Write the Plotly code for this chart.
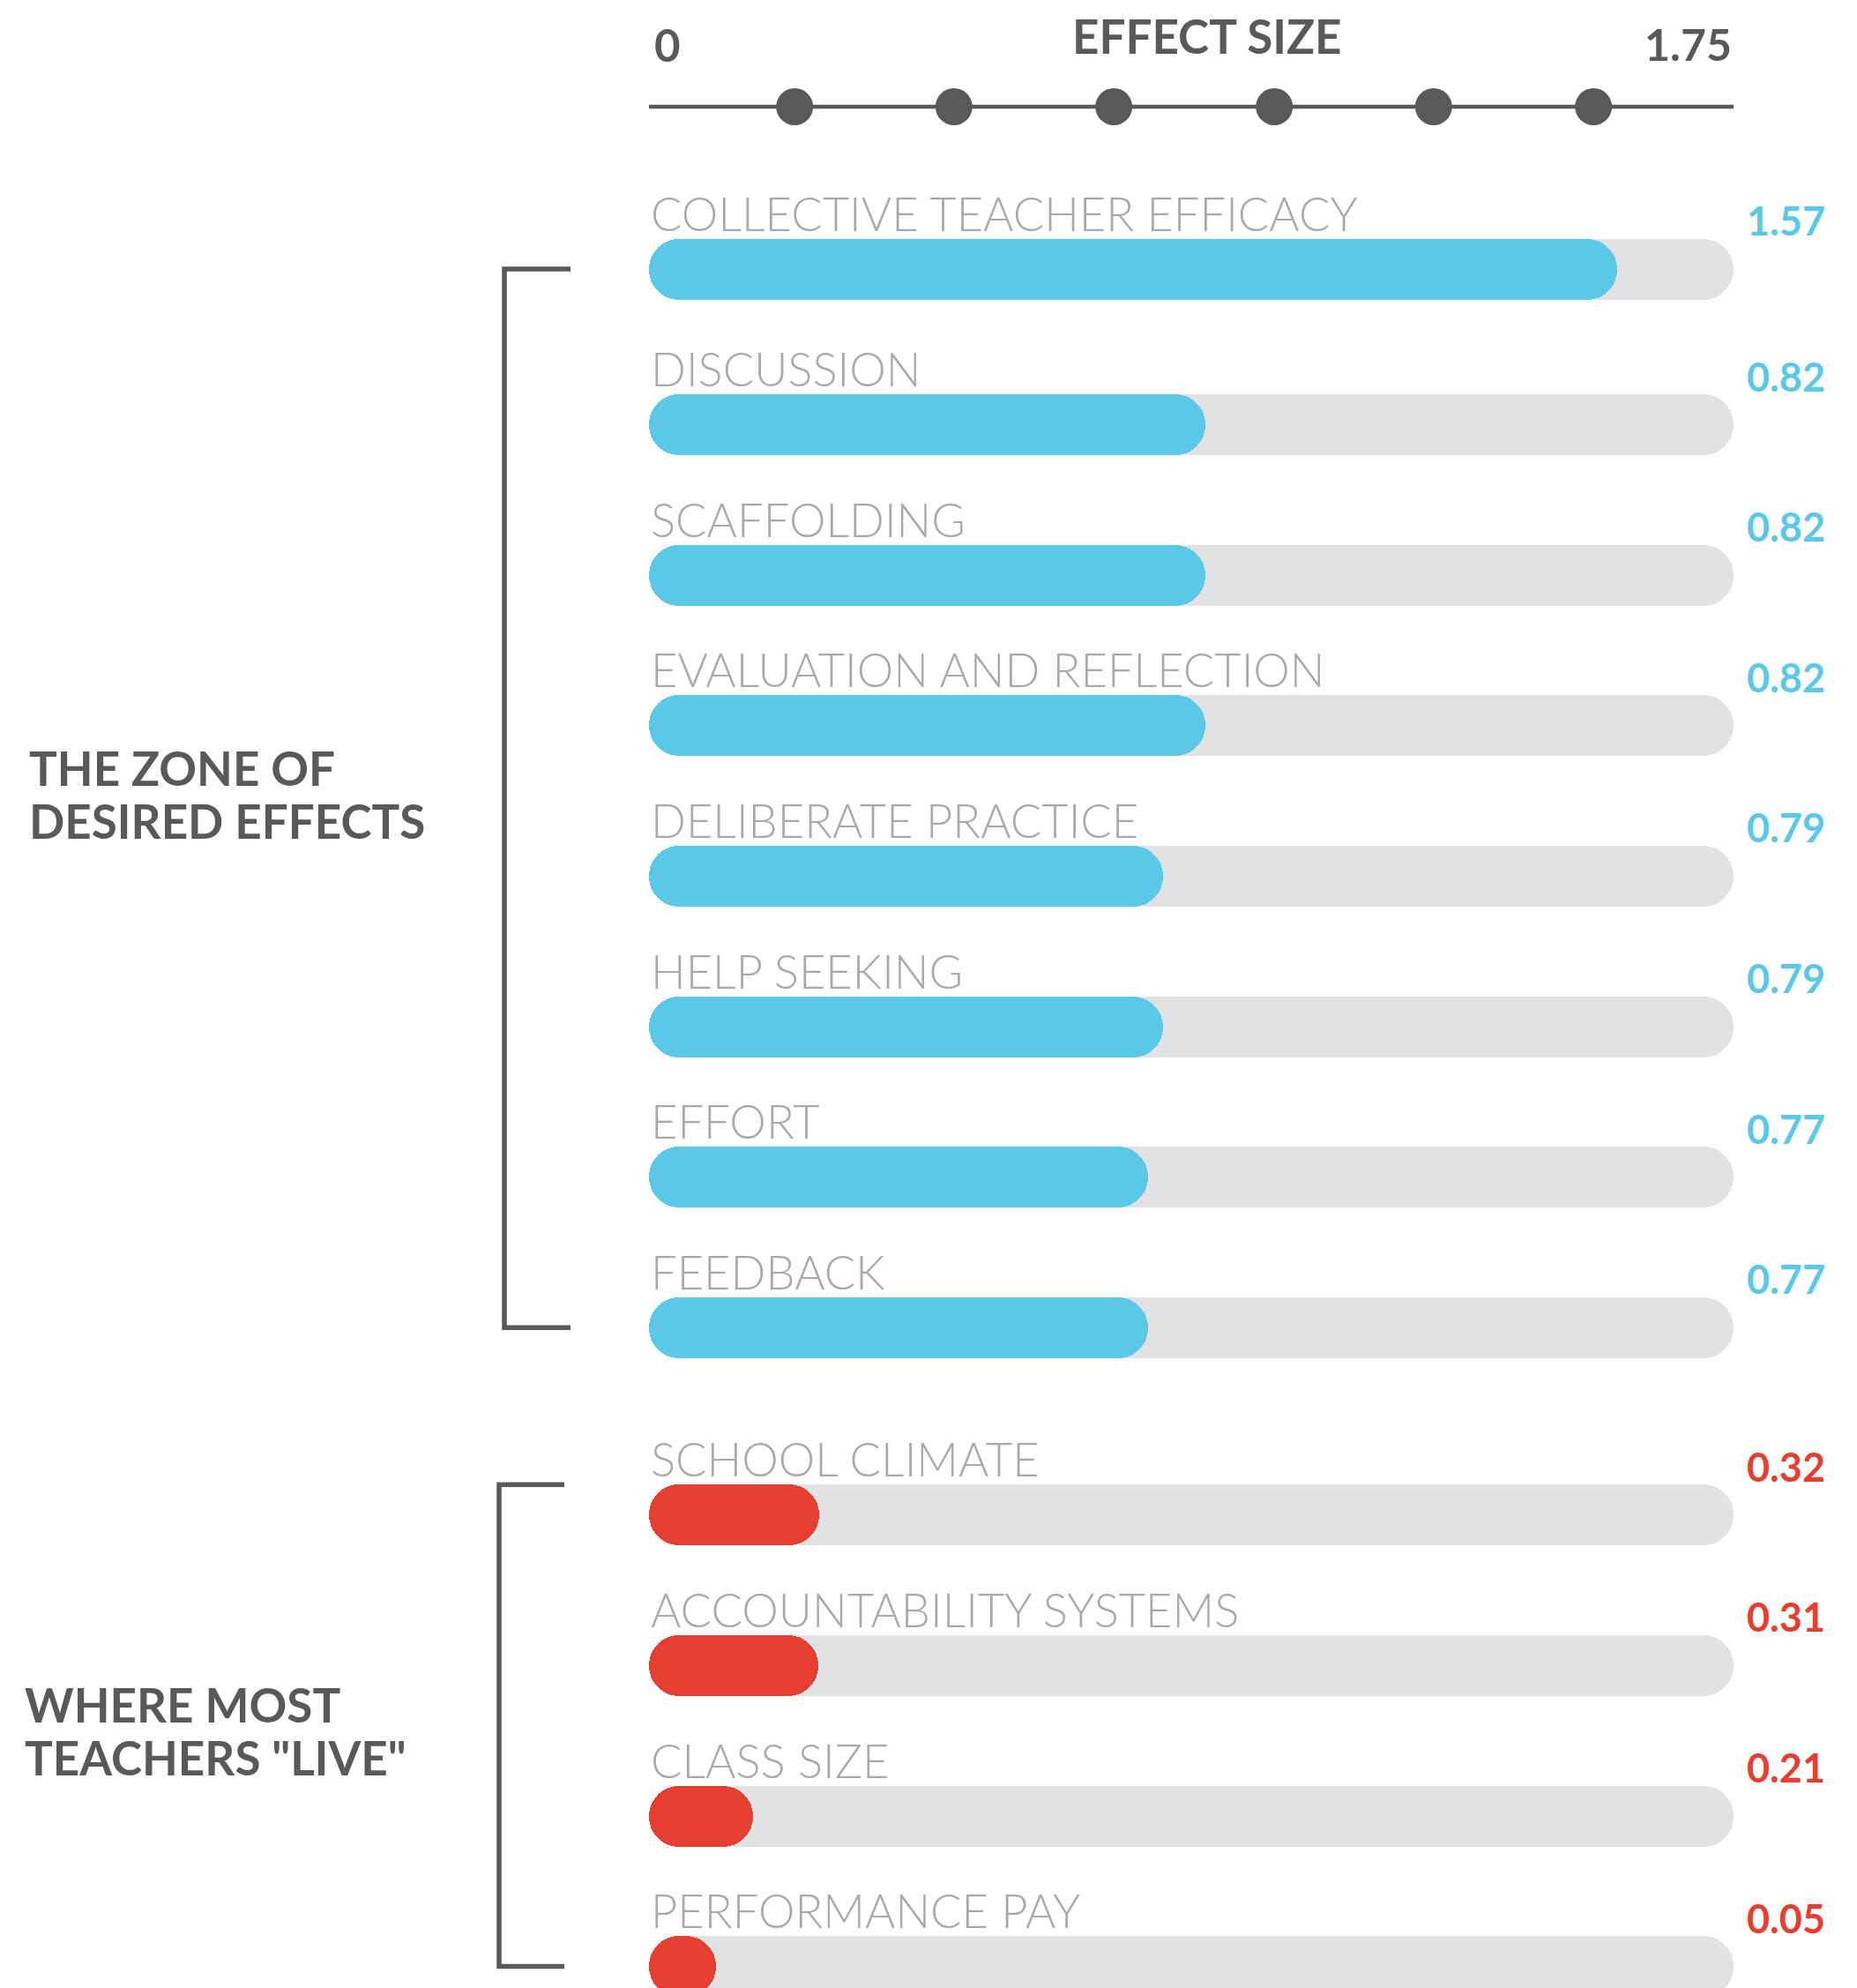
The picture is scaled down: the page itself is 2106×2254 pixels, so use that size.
import plotly.graph_objects as go

# ---------------- data ----------------
categories = [
    "COLLECTIVE TEACHER EFFICACY", "DISCUSSION", "SCAFFOLDING",
    "EVALUATION AND REFLECTION", "DELIBERATE PRACTICE", "HELP SEEKING",
    "EFFORT", "FEEDBACK", "SCHOOL CLIMATE", "ACCOUNTABILITY SYSTEMS",
    "CLASS SIZE", "PERFORMANCE PAY",
]
effect_labels = ["1.57", "0.82", "0.82", "0.82", "0.79", "0.79",
                 "0.77", "0.77", "0.32", "0.31", "0.21", "0.05"]
# bar lengths as drawn in the picture (effect-size units on the 0-1.75 scale)
bar_lengths = [1.562, 0.898, 0.898, 0.898, 0.829, 0.829,
               0.805, 0.805, 0.275, 0.273, 0.168, 0.108]
zones = ["desired"] * 8 + ["live"] * 4
axis_min, axis_max = 0.0, 1.75
axis_tick_labels = ["0", "1.75"]
axis_title = "EFFECT SIZE"
axis_dots = [0.235, 0.492, 0.750, 1.009, 1.266, 1.524]
zone_titles = {"desired": ["THE ZONE OF", "DESIRED EFFECTS"],
               "live": ["WHERE MOST", 'TEACHERS "LIVE"']}

# ---------------- style / layout ----------------
W, H = 2106, 2254
DARK = "#58595b"
LABEL_GREY = "#a7a9ac"
TRACK = "#e1e2e4"
ZONE_COLOR = {"desired": "#5ac8e6", "live": "#e63e31"}
FONT = "Lato, 'Open Sans', sans-serif"

PX0, PX1 = 736, 1966           # pixel span of the 0..1.75 scale
K = (PX1 - PX0) / (axis_max - axis_min)


def px2x(px):
    return axis_min + (px - PX0) / K


ROW0, FIRST_GAP, PITCH, GAP = 305, 6, 170.6, 42
BAR_T = 69
row_y = [ROW0 + PITCH * i + (FIRST_GAP if i > 0 else 0) + (GAP if z == "live" else 0)
         for i, z in enumerate(zones)]
AXIS_Y = 121

fig = go.Figure()

n = len(categories)
# grey tracks (floating base -> all four corners rounded)
fig.add_trace(go.Bar(
    y=row_y, x=[axis_max - axis_min] * n, base=[axis_min] * n, orientation="h", width=BAR_T,
    marker=dict(color=TRACK, line=dict(width=0), cornerradius="50%"),
    hoverinfo="skip", showlegend=False))
# coloured effect bars
fig.add_trace(go.Bar(
    y=row_y, x=bar_lengths, base=[axis_min] * n, orientation="h", width=BAR_T,
    marker=dict(color=[ZONE_COLOR[z] for z in zones], line=dict(width=0), cornerradius="50%"),
    hoverinfo="skip", showlegend=False))

# top scale line and dots
fig.add_trace(go.Scatter(x=[axis_min, axis_max], y=[AXIS_Y, AXIS_Y], mode="lines",
                         line=dict(color=DARK, width=4.5), hoverinfo="skip", showlegend=False))
fig.add_trace(go.Scatter(x=axis_dots, y=[AXIS_Y] * len(axis_dots), mode="markers",
                         marker=dict(color=DARK, size=42, line=dict(width=0)),
                         hoverinfo="skip", showlegend=False))

ann = []
ann.append(dict(x=axis_min, xshift=4, y=50, text=axis_tick_labels[0], xanchor="left", yanchor="middle",
                font=dict(family=FONT, size=51, color=DARK, weight="bold")))
ann.append(dict(x=axis_max, y=50, text=axis_tick_labels[1], xanchor="right", yanchor="middle",
                font=dict(family=FONT, size=50, color=DARK, weight="bold")))
ann.append(dict(x=px2x(1369), y=40, text=axis_title, xanchor="center", yanchor="middle",
                font=dict(family=FONT, size=53, color=DARK, weight="bold")))

for cat, lab, y, z in zip(categories, effect_labels, row_y, zones):
    ann.append(dict(x=axis_min, y=y - 64, text=cat, xanchor="left", yanchor="middle",
                    font=dict(family=FONT, size=52.5, color=LABEL_GREY, weight=300)))
    ann.append(dict(x=axis_max, xshift=13, y=y - 55, text=lab, xanchor="left", yanchor="middle",
                    font=dict(family=FONT, size=45, color=ZONE_COLOR[z], weight="bold")))

# brackets + zone titles
idx_d = [i for i, z in enumerate(zones) if z == "desired"]
idx_l = [i for i, z in enumerate(zones) if z == "live"]
brackets = [
    (572, 647, row_y[idx_d[0]], row_y[idx_d[-1]], 31, -5, zone_titles["desired"]),
    (566, 640, row_y[idx_l[0]] - BAR_T / 2, row_y[idx_l[-1]], 26, 6, zone_titles["live"]),
]
shapes = []
for xv, xa, yt, yb, tx, dy, lines in brackets:
    shapes.append(dict(
        type="path", xref="x", yref="y",
        path=f"M {px2x(xa)},{yt} L {px2x(xv)},{yt} L {px2x(xv)},{yb} L {px2x(xa)},{yb}",
        line=dict(color=DARK, width=5.5)))
    yc = (yt + yb) / 2 + dy
    for j, t in enumerate(lines):
        ann.append(dict(x=px2x(tx), y=yc - 30 + 60 * j, text=t, xanchor="left", yanchor="middle",
                        font=dict(family=FONT, size=53, color=DARK, weight="bold")))

for a in ann:
    a.update(xref="x", yref="y", showarrow=False)

fig.update_layout(
    width=W, height=H, autosize=False,
    margin=dict(l=0, r=0, t=0, b=0, pad=0),
    paper_bgcolor="white", plot_bgcolor="white",
    barmode="overlay", bargap=0,
    xaxis=dict(range=[px2x(0), px2x(W)], visible=False, fixedrange=True),
    yaxis=dict(range=[H, 0], visible=False, fixedrange=True),
    annotations=ann, shapes=shapes, showlegend=False,
)

fig.write_html("out.html", config={"displayModeBar": False},
               post_script="document.body.style.margin='0';")
